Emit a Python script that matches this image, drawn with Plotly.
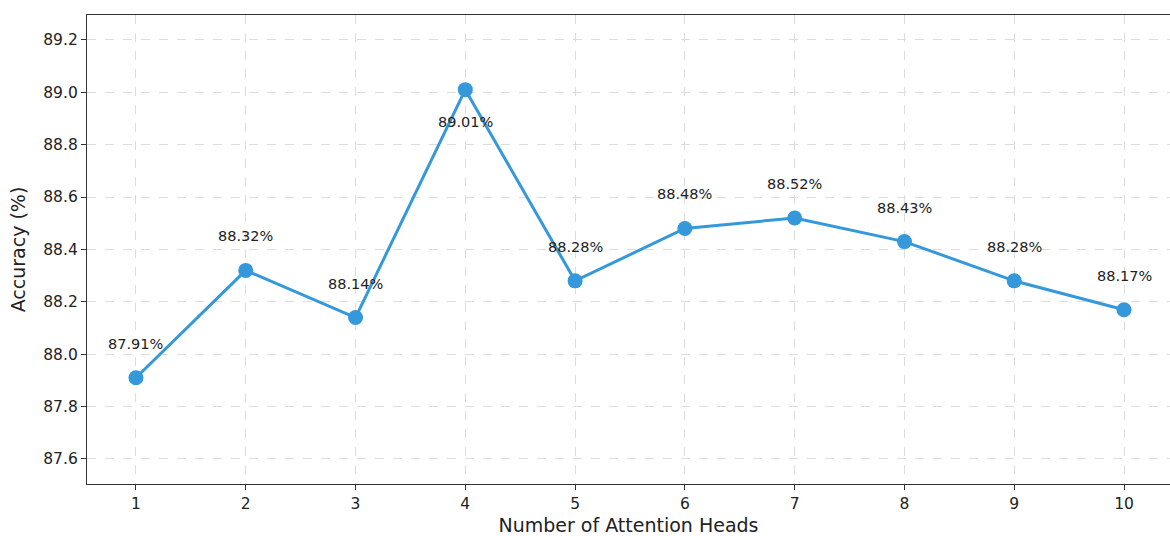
import plotly.graph_objects as go

heads = [1, 2, 3, 4, 5, 6, 7, 8, 9, 10]
accuracy = [87.91, 88.32, 88.14, 89.01, 88.28, 88.48, 88.52, 88.43, 88.28, 88.17]
y_ticks = [87.6, 87.8, 88.0, 88.2, 88.4, 88.6, 88.8, 89.0, 89.2]

color = "#3498db"
font_family = "DejaVu Sans"

fig = go.Figure()
fig.add_trace(go.Scatter(
    x=heads, y=accuracy, mode="lines+markers",
    line=dict(color=color, width=3),
    marker=dict(color=color, size=15),
    showlegend=False,
))

peak = max(accuracy)
for xv, yv in zip(heads, accuracy):
    fig.add_annotation(
        x=xv, y=yv, text=f"{yv:.2f}%", showarrow=False,
        yshift=-32 if yv == peak else 34,
        font=dict(family=font_family, size=14.5, color="#222222"),
    )

axis_common = dict(
    showline=True, linecolor="#333333", linewidth=1.3,
    ticks="outside", ticklen=5, tickwidth=1.2, tickcolor="#333333",
    showgrid=True, gridcolor="#dddddd", griddash="dash", gridwidth=1,
    zeroline=False,
    tickfont=dict(family=font_family, size=15.5, color="#222222"),
)

fig.update_xaxes(
    range=[0.554, 10.419], tickvals=heads, mirror=True,
    title=dict(text="Number of Attention Heads", font=dict(family=font_family, size=19, color="#222222"), standoff=11),
    **axis_common,
)
fig.update_yaxes(
    range=[87.5045, 89.295], tickvals=y_ticks, ticktext=[f"{v:.1f}" for v in y_ticks],
    title=dict(text="Accuracy (%)", font=dict(family=font_family, size=19, color="#222222"), standoff=12),
    **axis_common,
)

fig.update_layout(
    width=1170, height=536,
    margin=dict(l=87, r=0, t=15, b=52),
    plot_bgcolor="white", paper_bgcolor="white",
)

# remove the default page margin so the figure fills the window exactly
fig.write_html(
    "out.html",
    config={"displayModeBar": False},
    post_script="document.body.style.margin='0';document.body.style.overflow='hidden';",
)
